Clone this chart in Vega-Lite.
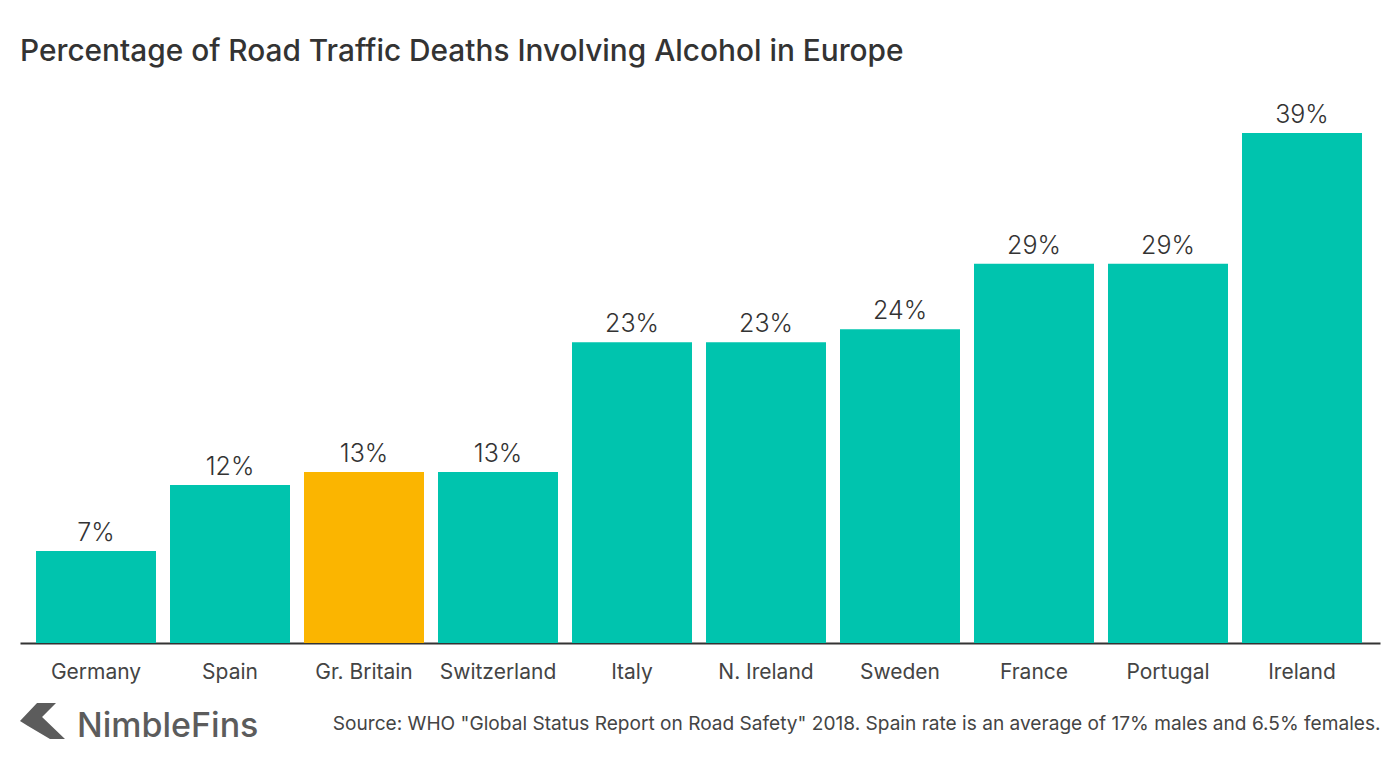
{
  "$schema": "https://vega.github.io/schema/vega-lite/v6.json",
  "width": 1360,
  "height": 510,
  "padding": {"left": 20, "top": 133, "right": 20, "bottom": 127},
  "autosize": "none",
  "background": "white",
  "title": {
    "text": "Percentage of Road Traffic Deaths Involving Alcohol in Europe",
    "font": "Inter",
    "fontSize": 29.8,
    "fontWeight": 500,
    "color": "#333333",
    "anchor": "start",
    "frame": "group",
    "dx": 0,
    "offset": 36
  },
  "data": {"values": [
    {"country": "Germany", "pct": 0.0703, "group": "other"},
    {"country": "Spain", "pct": 0.1208, "group": "other"},
    {"country": "Gr. Britain", "pct": 0.1307, "group": "highlight"},
    {"country": "Switzerland", "pct": 0.1307, "group": "other"},
    {"country": "Italy", "pct": 0.23, "group": "other"},
    {"country": "N. Ireland", "pct": 0.23, "group": "other"},
    {"country": "Sweden", "pct": 0.24, "group": "other"},
    {"country": "France", "pct": 0.29, "group": "other"},
    {"country": "Portugal", "pct": 0.29, "group": "other"},
    {"country": "Ireland", "pct": 0.39, "group": "other"}
  ]},
  "encoding": {
    "x": {
      "field": "country",
      "type": "nominal",
      "sort": null,
      "scale": {"paddingInner": 0.1045, "paddingOuter": 0.1269, "align": 0.4706},
      "axis": {
        "title": "Source: WHO \"Global Status Report on Road Safety\" 2018. Spain rate is an average of 17% males and 6.5% females.",
        "titleFont": "Inter",
        "titleFontSize": 19.1,
        "titleFontWeight": 400,
        "titleColor": "#444444",
        "titleAnchor": "end",
        "titlePadding": 32,
        "labelAngle": 0,
        "labelFont": "Inter",
        "labelFontSize": 21,
        "labelColor": "#444444",
        "labelPadding": 18,
        "ticks": false,
        "domainColor": "#333333",
        "domainWidth": 2
      }
    },
    "y": {
      "field": "pct",
      "type": "quantitative",
      "scale": {"domain": [0, 0.39]},
      "axis": null
    }
  },
  "layer": [
    {
      "mark": {"type": "bar"},
      "encoding": {
        "color": {
          "field": "group",
          "type": "nominal",
          "scale": {"domain": ["other", "highlight"], "range": ["#00c4ae", "#fbb500"]},
          "legend": null
        }
      }
    },
    {
      "mark": {"type": "text", "baseline": "bottom", "dy": -5, "font": "Inter", "fontSize": 25, "fontWeight": 300, "color": "#333333"},
      "encoding": {"text": {"field": "pct", "type": "quantitative", "format": ".0%"}}
    },
    {
      "data": {"values": [{"country": "Germany", "pos": -0.0642, "brand": "NimbleFins"}]},
      "mark": {"type": "text", "align": "left", "baseline": "middle", "dx": -19, "font": "Inter", "fontSize": 34, "fontWeight": 500, "color": "#5c5c5c"},
      "encoding": {
        "y": {"field": "pos", "type": "quantitative"},
        "text": {"field": "brand"}
      }
    },
    {
      "data": {"values": [{"country": "Germany", "pos": -0.0596}]},
      "mark": {
        "type": "point",
        "filled": true,
        "opacity": 1,
        "color": "#5c5c5c",
        "size": 2025,
        "xOffset": -53.5,
        "shape": "M-1 0L-0.244 -0.8L0.6 -0.8L-0.02 -0.18L1 0.8L0.333 0.8L-0.644 0.222Z"
      },
      "encoding": {
        "y": {"field": "pos", "type": "quantitative"}
      }
    }
  ],
  "config": {"view": {"stroke": null}}
}
